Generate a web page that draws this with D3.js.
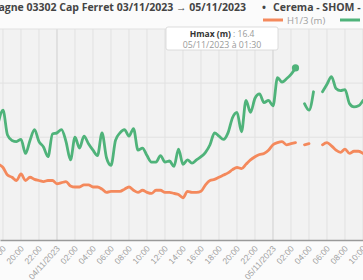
<!DOCTYPE html>
<html>
<head>
<meta charset="utf-8">
<script src="https://cdn.jsdelivr.net/npm/d3@7"></script>
<style>
  body { margin: 0; background: #fbfbfb; }
  svg { display: block; font-family: "Open Sans", sans-serif; }
</style>
</head>
<body>
<div id="chart"></div>
<script>
// set the dimensions of the graph (the view is a crop of a wider chart)
var W = 363, H = 280,
    margin = {top: 29, bottom: 40};

// half-hour samples, 03/11/2023 17:30 -> 05/11/2023 10:00 (local time)
var startTime = new Date(2023, 10, 3, 17, 30);
var endTime = new Date(2023, 10, 5, 10, 0);
var times = d3.timeMinute.every(30).range(startTime, d3.timeMinute.offset(endTime, 1));

// Hmax (m)
var hmax = [11.4,12.5,10.2,9.7,9.6,9.8,8.5,9.7,10.7,9.6,
            9.1,8.2,10.3,10.4,10.7,9.6,7.9,10.0,9.0,10.1,
            9.4,8.8,8.3,10.4,8.1,7.4,9.7,10.4,10.7,10.1,
            10.8,8.8,9.0,8.3,7.7,7.7,8.3,7.7,7.8,7.3,
            8.9,7.5,7.9,7.6,7.9,8.2,8.6,9.3,10.4,10.1,
            9.8,10.4,11.8,12.3,10.5,13.4,12.3,13.6,14.0,13.2,
            13.4,12.9,15.5,15.1,15.4,15.8,16.4,null,13.1,12.5,
            14.2,null,14.2,14.9,15.6,14.5,14.3,14.4,13.1,12.8,
            12.9,13.4];

// H1/3 (m)
var h13 = [7.5,7.2,6.5,6.3,6.0,6.6,6.0,6.3,6.1,6.0,
           5.9,6.0,6.0,5.7,5.8,5.9,5.5,5.4,5.4,5.6,
           5.6,5.4,5.4,5.2,4.9,5.0,5.0,5.0,5.2,5.4,
           5.1,4.9,5.1,4.9,4.8,5.1,5.1,4.9,4.9,4.8,
           4.7,4.4,5.0,4.9,4.9,5.0,5.6,6.0,6.1,6.3,
           6.5,6.7,7.0,7.2,7.1,7.5,7.9,8.2,8.4,8.5,
           8.8,9.3,9.5,9.6,9.3,9.4,9.5,null,9.3,9.4,
           null,null,9.3,9.5,9.2,8.8,8.6,8.9,8.5,8.7,
           8.7,8.5];

var yGrid = [10, 15, 20];
var hoverIndex = 66;
var tooltipLabel = "Hmax (m)";
var tooltipValue = "16.4";
var tooltipDate = "05/11/2023 à 01:30";

var colorHmax = "#4fb37a", colorH13 = "#f4895c";

var svg = d3.select("#chart")
  .append("svg")
    .attr("width", W)
    .attr("height", H);

// scales
var x = d3.scaleTime()
  .domain([new Date(2023, 10, 3, 17, 40), endTime])
  .range([0, W]);
var y = d3.scaleLinear()
  .domain([0.5, 20])
  .range([H - margin.bottom, margin.top]);

// plot background
svg.append("rect")
  .attr("x", 0).attr("y", margin.top)
  .attr("width", W).attr("height", H - margin.bottom - margin.top)
  .attr("fill", "#f2f2f2");

// vertical grid, every 2 hours, darker at midnight
var gridTicks = x.ticks(d3.timeHour.every(2));
svg.append("g")
  .selectAll("line")
  .data(gridTicks)
  .enter()
  .append("line")
    .attr("x1", function(d) { return x(d); })
    .attr("x2", function(d) { return x(d); })
    .attr("y1", margin.top)
    .attr("y2", H - margin.bottom)
    .attr("stroke", function(d) { return d.getHours() === 0 ? "#cfcfcf" : "#e1e1e1"; })
    .attr("stroke-width", 1);

// horizontal grid
svg.append("g")
  .selectAll("line")
  .data(yGrid)
  .enter()
  .append("line")
    .attr("x1", 0).attr("x2", W)
    .attr("y1", function(d) { return y(d); })
    .attr("y2", function(d) { return y(d); })
    .attr("stroke", "#e1e1e1");

// X axis
var fmtDate = d3.timeFormat("%d/%m/%Y"), fmtHour = d3.timeFormat("%H:%M");
var xAxis = d3.axisBottom(x)
  .ticks(d3.timeHour.every(2))
  .tickSize(0)
  .tickFormat(function(d) { return d.getHours() === 0 ? fmtDate(d) : fmtHour(d); });
var gx = svg.append("g")
  .attr("transform", "translate(0," + (H - margin.bottom) + ")")
  .call(xAxis);
gx.select(".domain").attr("stroke", "#9a9a9a").attr("stroke-width", 1.5);
gx.selectAll("text")
  .attr("fill", "#a0a0a0")
  .style("font-size", "8.5px")
  .attr("text-anchor", "end")
  .attr("dy", null)
  .attr("y", 0)
  .attr("transform", "translate(3,9) rotate(-48)");

// lines
var rows = times.map(function(t, i) { return {t: t, hmax: hmax[i], h13: h13[i]}; });

function makeLine(key) {
  return d3.line()
    .defined(function(d) { return d[key] != null; })
    .x(function(d) { return x(d.t); })
    .y(function(d) { return y(d[key]); })
    .curve(d3.curveMonotoneX);
}

svg.append("path")
  .datum(rows)
  .attr("fill", "none")
  .attr("stroke", colorH13)
  .attr("stroke-width", 2.8)
  .attr("stroke-linejoin", "round")
  .attr("stroke-linecap", "round")
  .attr("d", makeLine("h13"));

svg.append("path")
  .datum(rows)
  .attr("fill", "none")
  .attr("stroke", colorHmax)
  .attr("stroke-width", 2.8)
  .attr("stroke-linejoin", "round")
  .attr("stroke-linecap", "round")
  .attr("d", makeLine("hmax"));

// hover point
var hp = rows[hoverIndex];
svg.append("circle")
  .attr("cx", x(hp.t)).attr("cy", y(hp.hmax))
  .attr("r", 3.6)
  .attr("fill", colorHmax);

// tooltip
var tip = svg.append("g").attr("transform", "translate(166,27)");
tip.append("rect")
  .attr("width", 112).attr("height", 23)
  .attr("rx", 2)
  .attr("fill", "#ffffff")
  .attr("stroke", "#d4d4d4")
  .attr("stroke-width", 0.8);
var t1 = tip.append("text")
  .attr("x", 56).attr("y", 10)
  .attr("text-anchor", "middle")
  .style("font-size", "8.5px");
t1.append("tspan").attr("font-weight", "bold").attr("fill", "#333").text(tooltipLabel);
t1.append("tspan").attr("fill", "#999").text(" : " + tooltipValue);
tip.append("text")
  .attr("x", 56).attr("y", 20.5)
  .attr("text-anchor", "middle")
  .style("font-size", "8.8px")
  .attr("fill", "#9a9a9a")
  .text(tooltipDate);

// title (cropped on the left and right)
var title = svg.append("g").style("font-size", "10.5px").attr("font-weight", "bold").attr("fill", "#444");
title.append("text").attr("x", 246).attr("y", 11).attr("text-anchor", "end")
  .text("Campagne 03302 Cap Ferret 03/11/2023 → 05/11/2023");
title.append("text").attr("x", 264).attr("y", 11).attr("text-anchor", "middle").text("•");
title.append("text").attr("x", 273).attr("y", 11).text("Cerema - SHOM -");

// legend
var legend = [{name: "H1/3 (m)", color: colorH13, x: 263}, {name: "Hmax (m)", color: colorHmax, x: 340}];
var lg = svg.append("g").selectAll("g").data(legend).enter().append("g")
  .attr("transform", function(d) { return "translate(" + d.x + ",20)"; });
lg.append("line").attr("x1", 0).attr("x2", 20)
  .attr("stroke", function(d) { return d.color; }).attr("stroke-width", 3);
lg.append("text").attr("x", 24).attr("y", 3.5)
  .style("font-size", "9.5px").attr("fill", "#a0a0a0")
  .text(function(d) { return d.name; });
</script>
</body>
</html>
